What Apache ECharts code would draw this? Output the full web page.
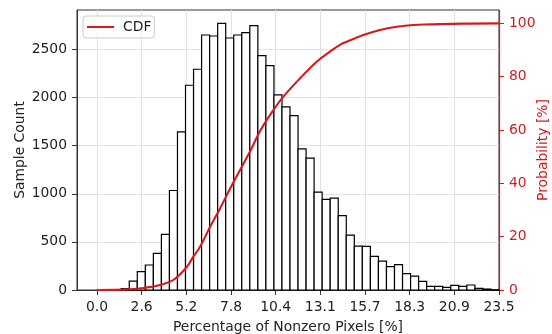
<!DOCTYPE html>
<html>
<head>
<meta charset="utf-8">
<script src="https://cdn.jsdelivr.net/npm/echarts@6/dist/echarts.min.js"></script>
<style>html,body{margin:0;padding:0;background:#fff;}#c{width:552px;height:334px;}</style>
</head>
<body>
<div id="c"></div>
<script>
// Histogram: 50 bins from binLo to binHi
const binLo = 0;
const binHi = 23.5;
const counts = [0, 0, 3, 14, 93, 190, 260, 380, 578, 1034,
  1643, 2128, 2294, 2650, 2640, 2771, 2619, 2650, 2675, 2747,
  2436, 2332, 2028, 1903, 1813, 1467, 1370, 1017, 941, 955,
  772, 571, 457, 453, 349, 301, 242, 263, 170, 145,
  90, 38, 38, 28, 48, 38, 52, 17, 10, 3];
// CDF (percent)
const cdfX = [0, 1.0, 1.93, 2.71, 3.68, 4.46, 5.24, 5.63, 6.02, 6.61, 7.19, 7.78, 8.36, 8.94, 9.53, 10.31, 10.89, 11.87, 12.84, 13.62, 14.2, 14.6, 15.57, 16.54, 17.52, 18.49, 19.47, 21.41, 23.5];
const cdfY = [0, 0.05, 0.26, 0.75, 1.9, 3.75, 8.6, 12.5, 16.2, 23.7, 30.6, 38.1, 45, 51.9, 59.6, 67.5, 72.5, 79.4, 85.6, 89.4, 91.9, 93.1, 95.6, 97.5, 98.7, 99.4, 99.6, 99.9, 100];
// Tick labels
const xTickLabels = ['0.0', '2.6', '5.2', '7.8', '10.4', '13.1', '15.7', '18.3', '20.9', '23.5'];
const yTicks = [0, 500, 1000, 1500, 2000, 2500];
const y2Ticks = [0, 20, 40, 60, 80, 100];

const RED = '#d7191c';
const FONT = 'DejaVu Sans';
const FS = 13.9;
const binW = (binHi - binLo) / counts.length;
const histData = counts.map((c, i) => [binLo + i * binW, binLo + (i + 1) * binW, c]);
const cdfData = cdfX.map((x, i) => [x, cdfY[i]]);
const plain = v => String(v);

const chart = echarts.init(document.getElementById('c'), null, {renderer: 'canvas'});
chart.setOption({
  animation: false,
  backgroundColor: '#fff',
  textStyle: {fontFamily: FONT},
  grid: [
    {left: 77, right: 53, top: 10, bottom: 44, show: true, borderColor: '#333', borderWidth: 1,
     backgroundColor: 'transparent', containLabel: false, outerBoundsMode: 'none'},
    {left: 97, right: 53, top: 10, bottom: 44, show: false, containLabel: false, outerBoundsMode: 'none'}
  ],
  legend: {
    data: [{name: 'CDF', icon: 'rect'}],
    left: 83, top: 16,
    padding: [3, 3, 3, 4],
    itemWidth: 27, itemHeight: 2,
    backgroundColor: 'rgba(255,255,255,0.8)',
    borderColor: '#cccccc', borderWidth: 1, borderRadius: 3,
    textStyle: {fontFamily: FONT, fontSize: FS, color: '#222', padding: [0, 0, 0, 4], lineHeight: 16}
  },
  xAxis: [
    {
      gridIndex: 0, type: 'value', min: -1.175, max: 23.5,
      axisLine: {show: true, onZero: false, lineStyle: {color: '#333', width: 1}},
      axisTick: {show: false}, axisLabel: {show: false}, splitLine: {show: false},
      name: 'Percentage of Nonzero Pixels [%]', nameLocation: 'middle', nameGap: 30, nameMoveOverlap: false,
      nameTextStyle: {fontFamily: FONT, fontSize: FS, color: '#222'}
    },
    {
      gridIndex: 1, type: 'category', boundaryGap: false, data: xTickLabels,
      axisLine: {show: false, onZero: false},
      axisTick: {show: true, length: 5, alignWithLabel: true, interval: 0, lineStyle: {color: '#333'}},
      axisLabel: {margin: 10, fontFamily: FONT, fontSize: FS, color: '#222', interval: 0},
      splitLine: {show: true, interval: 0, lineStyle: {color: '#e2e2e2', width: 1}}
    }
  ],
  yAxis: [
    {
      gridIndex: 0, type: 'value', min: 0, max: 2910, interval: 500, position: 'left',
      axisLine: {show: true, onZero: false, lineStyle: {color: '#333', width: 1}},
      axisTick: {show: true, length: 5, customValues: yTicks, lineStyle: {color: '#333'}},
      axisLabel: {margin: 10, fontFamily: FONT, fontSize: FS, color: '#222', customValues: yTicks, formatter: plain},
      splitLine: {show: true, lineStyle: {color: '#e2e2e2', width: 1}},
      name: 'Sample Count', nameLocation: 'middle', nameGap: 50, nameMoveOverlap: false,
      nameTextStyle: {fontFamily: FONT, fontSize: FS, color: '#222'}
    },
    {
      gridIndex: 0, type: 'value', min: 0, max: 105, interval: 20, position: 'right',
      axisLine: {show: true, onZero: false, lineStyle: {color: RED, width: 1.2}},
      axisTick: {show: true, length: 5, customValues: y2Ticks, lineStyle: {color: RED}},
      axisLabel: {margin: 10, fontFamily: FONT, fontSize: FS, color: RED, customValues: y2Ticks, formatter: plain},
      splitLine: {show: false},
      name: 'Probability [%]', nameLocation: 'middle', nameGap: 37, nameMoveOverlap: false,
      nameTextStyle: {fontFamily: FONT, fontSize: FS, color: RED}
    },
    {gridIndex: 1, type: 'value', show: false}
  ],
  series: [
    {
      type: 'custom', name: 'hist', xAxisIndex: 0, yAxisIndex: 0,
      data: histData, encode: {x: [0, 1], y: 2}, z: 2,
      renderItem: function (params, api) {
        const p0 = api.coord([api.value(0), api.value(2)]);
        const p1 = api.coord([api.value(1), 0]);
        return {
          type: 'rect',
          shape: {x: p0[0], y: p0[1], width: p1[0] - p0[0], height: p1[1] - p0[1]},
          style: {fill: '#ffffff', stroke: '#000000', lineWidth: 1.2}
        };
      }
    },
    {
      type: 'line', name: 'CDF', xAxisIndex: 0, yAxisIndex: 1,
      data: cdfData, symbol: 'none', showSymbol: false, smooth: 0.4, z: 5,
      lineStyle: {color: RED, width: 2.1}, itemStyle: {color: RED}
    }
  ]
});
</script>
</body>
</html>
